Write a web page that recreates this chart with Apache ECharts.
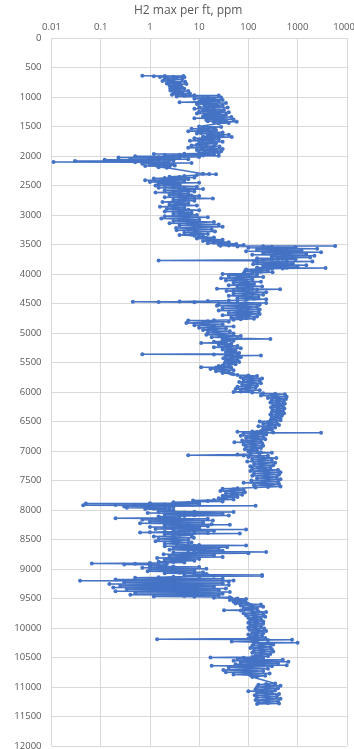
<!DOCTYPE html>
<html>
<head>
<meta charset="utf-8">
<script src="https://cdn.jsdelivr.net/npm/echarts@6/dist/echarts.min.js"></script>
<style>html,body{margin:0;padding:0;background:#fff;}#c{width:354px;height:749px;}</style>
</head>
<body>
<div id="c"></div>
<script>
// [depth ft, H2 ppm]
const seg650 = [[640,0.7],[643,2],[646,4.8],[650,1.2],[655,3],[660,1.6],[665,5],[670,2.2],[680,3.5],[690,2],[700,4.5],[710,2.4],[720,3],[730,1.8],[740,5.2],[750,2.5],[760,4],[770,2.2],[780,5.5],[790,3],[800,4.2],[810,2.5],[820,3.6],[830,2.8],[840,4.5],[850,2.6],[860,5],[870,3],[880,4],[890,2.6],[900,6],[910,3.2],[920,4.5],[930,3],[940,6.5],[950,3.5],[960,2.8],[970,8],[975,25],[980,5],[990,3.5],[1000,15]];
const seg1000 = [[1010,28],[1020,12],[1030,8],[1040,20],[1050,30],[1060,11],[1070,25],[1080,10],[1090,4],[1095,14],[1100,35],[1110,12],[1120,9],[1130,22],[1140,30],[1150,13],[1160,25],[1170,10],[1180,38],[1190,15],[1200,8],[1210,20],[1220,32],[1230,12],[1240,28],[1250,10],[1260,40],[1270,16],[1280,9],[1290,25],[1300,35],[1310,13],[1320,30],[1330,12],[1340,45],[1350,18],[1360,8],[1370,30],[1380,50],[1390,14],[1400,35],[1410,15],[1420,58],[1430,20],[1440,40],[1450,25]];
const seg1500 = [[1500,10],[1510,28],[1520,12],[1530,20],[1540,7],[1550,15],[1560,22],[1570,10],[1580,6],[1590,18],[1600,30],[1610,11],[1620,9],[1630,25],[1640,40],[1650,15],[1660,30],[1670,12],[1680,46],[1690,18],[1700,8],[1710,20],[1720,25],[1730,10],[1740,6.5],[1750,18],[1760,30],[1770,12],[1780,10],[1790,22],[1800,14],[1810,9],[1820,7],[1830,20],[1840,26],[1850,11],[1860,6],[1870,18],[1880,30],[1890,12],[1900,9],[1910,22],[1920,28],[1930,13],[1940,10],[1950,25]];
const seg1950 = [[1960,5],[1965,1.2],[1970,10],[1975,20],[1980,4],[1985,2],[1990,12],[1995,25],[2000,3],[2005,0.5],[2010,5],[2015,10],[2020,1.5],[2025,0.23],[2030,2],[2035,4],[2040,1],[2045,0.4],[2050,2.5],[2055,6],[2060,1.2],[2065,0.12],[2070,1.5],[2075,3],[2080,0.8],[2085,0.03],[2090,1],[2095,2.4],[2100,0.011],[2105,0.5],[2110,1],[2115,2],[2120,7],[2125,1.5],[2130,0.7],[2135,2],[2140,3],[2145,1.2],[2150,1],[2155,2.5],[2160,3.2],[2165,1.4],[2170,0.8],[2175,2],[2180,2.5],[2190,1.5],[2200,2.2]];
const seg2300 = [[2300,12],[2305,16],[2310,22],[2320,9],[2340,5],[2350,2.5],[2358,4],[2365,8],[2372,2],[2380,1.2],[2388,3],[2395,6],[2402,2],[2410,0.8],[2418,2.5],[2425,5],[2432,1.8],[2440,1],[2448,3],[2455,10],[2462,2.5],[2470,1.5],[2478,3.5],[2485,4],[2492,2],[2500,1.3],[2510,4],[2520,9],[2530,3],[2540,1.5],[2550,5],[2560,12],[2570,4],[2580,2],[2590,6],[2600,8],[2610,3],[2620,1.3],[2630,4],[2640,6],[2650,3],[2660,2.5],[2670,7],[2680,10],[2690,4],[2700,2],[2710,8],[2720,19],[2730,5],[2740,3]];
const seg2750 = [[2750,5],[2760,8],[2770,3],[2780,1.8],[2790,4],[2800,6],[2810,3.5],[2820,2.5],[2830,5],[2840,9],[2850,3],[2860,1.6],[2870,3.5],[2880,5],[2890,3],[2900,2.2],[2910,6],[2920,10],[2930,4],[2940,2],[2950,4.5],[2960,7],[2970,4],[2980,3],[2990,6],[3000,9],[3010,4],[3020,2],[3030,6],[3040,15],[3050,5],[3060,1.7],[3070,5],[3080,10],[3090,4],[3100,3],[3110,8],[3120,20],[3130,6],[3140,2.5],[3150,7],[3160,25],[3170,8],[3180,4],[3190,10],[3200,30],[3210,8],[3220,3.4],[3230,7],[3240,18],[3250,6],[3260,3.5],[3270,9],[3280,21],[3290,8],[3300,5],[3310,9],[3320,15],[3330,7],[3340,4],[3350,8],[3360,12],[3370,10]];
const seg3380 = [[3380,20],[3390,14],[3400,9],[3410,18],[3420,30],[3430,15],[3440,12],[3450,25],[3460,40],[3470,20],[3480,15],[3485,30],[3490,57],[3495,35],[3500,25],[3505,50],[3510,80],[3515,40],[3520,27],[3525,5800],[3530,200],[3535,60],[3540,300],[3545,900],[3550,250],[3555,100],[3562,400],[3570,2500],[3577,350],[3585,150],[3592,600],[3600,1200],[3607,300],[3615,90],[3622,500],[3630,3000],[3637,400],[3645,200],[3652,700],[3660,1500],[3667,350],[3675,120],[3682,600],[3690,2200],[3697,500],[3705,300],[3712,800],[3720,1800],[3727,400],[3735,150],[3742,500],[3750,900],[3755,300],[3760,200],[3770,1.5],[3775,150],[3780,130],[3785,600],[3790,2000],[3797,400],[3805,150],[3812,350],[3820,800],[3827,300],[3835,125],[3842,500],[3850,1500],[3857,350],[3865,200],[3872,450],[3880,1000],[3885,300],[3890,150],[3895,600],[3900,3700],[3905,500],[3910,300],[3917,150],[3925,90],[3932,180],[3940,250],[3947,120],[3955,85],[3962,180],[3970,310],[3977,150],[3985,120],[3992,80]];
const seg4000 = [[4000,30],[4008,80],[4015,150],[4022,60],[4030,40],[4040,100],[4050,200],[4060,70],[4070,28],[4080,60],[4090,120],[4100,55],[4110,35],[4120,90],[4130,180],[4140,80],[4150,50],[4160,100],[4170,130],[4180,70],[4190,40],[4200,110],[4210,190],[4220,90],[4230,60],[4240,100],[4250,23],[4255,120],[4260,440],[4268,150],[4275,80],[4282,50],[4290,36],[4300,100],[4310,230],[4320,90],[4330,50],[4340,120],[4350,200],[4360,80],[4370,40],[4380,90],[4390,160],[4400,100],[4410,60],[4420,130],[4430,230],[4440,90],[4450,40],[4458,15],[4465,4],[4470,0.45],[4475,1.5],[4480,8],[4485,60],[4490,230],[4495,80],[4500,25],[4510,90],[4520,170],[4530,70],[4540,23],[4550,80],[4560,150],[4570,60],[4580,30],[4590,100],[4600,170],[4610,70],[4620,25],[4630,90],[4640,160],[4650,70],[4660,40],[4670,110],[4680,170],[4690,60],[4700,30],[4710,100],[4720,150],[4730,70],[4740,45],[4750,90],[4760,130],[4768,70],[4775,50]];
const seg4780 = [[4785,20],[4790,6],[4800,15],[4810,40],[4820,12],[4830,5.5],[4840,12],[4850,30],[4860,15],[4870,8],[4880,20],[4890,50],[4900,18],[4910,10],[4920,18],[4930,35],[4940,16],[4950,12],[4960,22],[4970,42],[4980,20],[4990,15],[5000,25],[5010,50],[5020,25],[5030,14],[5040,30],[5050,70],[5060,30],[5070,18],[5080,35],[5090,60],[5100,280],[5105,40],[5110,30],[5120,40],[5130,50],[5140,30],[5150,20],[5160,35],[5170,11],[5175,30],[5180,45],[5190,35],[5200,25],[5210,40],[5220,60],[5230,35],[5240,20],[5250,40],[5260,70],[5270,45],[5280,30],[5290,40],[5300,55],[5310,45],[5320,35],[5330,50],[5340,65],[5350,45],[5360,0.7],[5365,20],[5370,40],[5375,60],[5380,180],[5385,60],[5390,35],[5400,50],[5410,70],[5420,45],[5430,31],[5440,45],[5450,60],[5460,40],[5470,35],[5480,50],[5490,65],[5500,45],[5510,33],[5520,45],[5530,55],[5540,40],[5550,30],[5560,25],[5570,40],[5575,25],[5580,11],[5585,22],[5590,45],[5600,25],[5610,17],[5620,30],[5630,50],[5640,30],[5650,22],[5660,30],[5670,40],[5680,30],[5690,45],[5700,50]];
const seg5700 = [[5710,60],[5720,100],[5730,150],[5740,90],[5750,70],[5760,120],[5770,190],[5780,110],[5790,80],[5800,120],[5810,170],[5820,100],[5830,65],[5840,110],[5850,180],[5860,110],[5870,75],[5880,110],[5890,150],[5900,90],[5910,60],[5920,100],[5930,140],[5940,90],[5950,55],[5960,100],[5970,170],[5980,100],[5990,70],[6000,50],[6010,120],[6020,200],[6030,350],[6040,550],[6050,300],[6060,180],[6070,350],[6080,600],[6090,400],[6100,250],[6110,400],[6120,580],[6130,400],[6140,300],[6150,420],[6160,520],[6170,380],[6180,280],[6190,400],[6200,550],[6210,420],[6220,320],[6230,420],[6240,500],[6250,380],[6260,290],[6270,400],[6280,540],[6290,420],[6300,310],[6310,400],[6320,500],[6330,380],[6340,300],[6350,420],[6360,530],[6370,400],[6380,280],[6390,380],[6400,480],[6410,380],[6420,300],[6430,380],[6440,450],[6450,350],[6460,290],[6470,350]];
const seg6470 = [[6480,450],[6490,280],[6500,170],[6510,260],[6520,380],[6530,280],[6540,200],[6550,300],[6560,420],[6570,260],[6580,160],[6590,250],[6600,350],[6610,260],[6620,200],[6630,260],[6640,300],[6650,230],[6660,180],[6668,120],[6675,60],[6680,150],[6685,320],[6690,3000],[6695,200],[6700,80],[6710,150],[6720,230],[6730,130],[6740,70],[6750,120],[6760,200],[6770,130],[6780,90],[6790,150],[6800,220],[6810,130],[6820,75],[6830,120],[6840,180],[6845,110],[6850,52],[6860,120],[6870,190],[6880,120],[6890,80],[6900,130],[6910,200],[6920,130],[6930,90],[6940,130],[6950,180],[6960,120],[6970,85],[6980,120],[6990,150],[7000,120]];
const seg7000 = [[7010,100],[7020,180],[7030,300],[7040,170],[7050,110],[7060,60],[7070,6],[7075,80],[7080,250],[7090,160],[7100,100],[7110,200],[7120,370],[7130,200],[7140,120],[7150,180],[7160,300],[7170,170],[7180,95],[7190,180],[7200,350],[7210,200],[7220,130],[7230,200],[7240,320],[7250,180],[7260,110],[7270,180],[7280,280],[7290,170],[7300,120],[7310,220],[7320,400],[7330,220],[7340,110],[7350,220],[7360,450],[7370,250],[7380,130],[7390,250],[7400,420],[7410,230],[7420,120],[7430,220],[7440,380],[7450,240],[7460,150],[7470,260],[7480,450],[7490,250],[7500,115],[7510,230],[7520,400],[7530,200],[7540,80],[7550,200],[7560,420],[7570,250],[7580,130],[7590,260],[7600,450],[7610,250],[7620,140]];
const seg7630 = [[7630,60],[7640,30],[7650,50],[7660,80],[7670,45],[7680,27],[7690,50],[7700,85],[7710,50],[7720,35],[7730,55],[7740,75],[7750,45],[7760,30],[7770,45],[7780,60],[7790,35],[7800,25],[7810,30],[7820,50],[7830,20],[7840,7.5],[7848,15],[7855,30],[7862,8],[7870,3],[7875,6],[7880,10],[7885,1],[7890,0.05],[7895,1],[7900,10],[7905,2],[7910,0.5],[7915,0.2],[7920,0.044],[7925,1],[7930,140],[7935,2],[7940,0.3],[7945,1],[7950,3],[7955,1],[7960,0.34],[7965,1],[7970,2.5],[7978,1.2],[7985,0.8],[7992,1.5],[8000,3]];
const seg8000 = [[8010,2],[8020,1.5],[8028,8],[8035,50],[8042,5],[8050,0.9],[8058,6],[8065,30],[8072,4],[8080,2],[8088,8],[8095,40],[8102,5],[8110,1.5],[8120,4],[8130,2],[8140,0.2],[8145,2],[8150,15],[8158,3],[8165,0.7],[8172,4],[8180,19],[8188,4],[8195,1],[8202,4],[8210,12],[8218,3],[8225,0.63],[8232,3],[8240,18],[8245,6],[8250,42],[8255,6],[8260,2],[8268,5],[8275,15],[8282,4],[8290,1],[8298,4],[8305,10],[8312,3],[8320,1.3],[8325,8],[8330,90],[8335,8],[8340,3],[8348,6],[8355,20],[8362,5],[8370,2],[8375,1],[8380,0.63],[8385,4],[8390,15],[8395,8],[8400,67],[8405,6],[8410,2],[8420,4]];
const seg8420 = [[8430,7],[8440,3],[8450,1.2],[8460,3],[8470,7.8],[8480,3],[8490,1.5],[8500,3.5],[8510,6],[8520,3],[8530,1.3],[8540,3],[8550,7],[8560,3.5],[8570,2],[8580,3.5],[8590,6],[8595,10],[8600,90],[8608,8],[8615,2],[8622,6],[8630,37],[8638,8],[8645,3],[8652,6],[8660,25],[8668,6],[8675,2.5],[8682,6],[8690,30],[8700,10],[8710,230],[8715,8],[8720,3],[8728,8],[8735,100],[8742,6],[8750,1.9],[8758,5],[8765,20],[8772,5],[8780,2.5],[8788,6],[8795,30],[8805,5],[8815,1.4],[8822,4],[8830,10],[8838,4],[8845,2],[8852,4],[8860,8],[8868,3],[8875,1.5],[8882,3],[8890,5],[8898,1],[8905,0.066],[8910,0.5],[8915,2.2],[8920,1],[8925,0.3],[8930,1],[8935,2],[8942,1.5]];
const seg8950 = [[8950,1],[8958,3],[8965,10],[8972,3],[8980,0.7],[8988,3],[8995,14],[9002,3],[9010,1],[9018,3],[9025,8],[9032,3],[9040,0.9],[9048,3],[9055,12],[9062,4],[9070,2],[9078,5],[9085,14],[9092,8],[9100,190],[9105,15],[9110,5],[9115,20],[9120,190],[9125,10],[9130,3],[9140,1.5],[9150,0.5],[9158,4],[9165,30],[9172,3],[9180,0.2],[9188,3],[9195,50],[9198,2],[9200,0.038],[9205,3],[9210,40],[9218,3],[9225,0.3],[9232,3],[9240,30],[9248,3],[9255,0.15],[9262,3],[9270,40],[9278,3],[9285,0.25],[9292,3],[9300,20],[9308,3],[9315,0.18],[9322,3],[9330,35],[9338,4],[9345,0.34],[9352,4],[9360,25],[9368,3],[9375,0.2],[9382,4],[9390,42],[9398,4],[9405,0.5],[9412,5],[9420,30],[9428,5],[9435,0.4],[9442,5],[9450,25],[9458,5],[9465,1.2],[9472,8],[9480,42],[9488,20]];
const seg9500 = [[9495,45],[9502,60],[9510,90],[9518,55],[9525,42],[9532,60],[9540,85],[9548,60],[9555,50],[9562,65],[9570,90],[9578,65],[9585,55],[9592,100],[9600,180],[9610,110],[9620,70],[9630,120],[9640,200],[9650,120],[9660,80],[9670,110],[9680,150],[9690,80],[9700,32],[9705,70],[9710,120],[9720,160],[9730,230],[9740,130],[9750,80],[9760,130],[9770,200],[9780,130],[9790,90],[9800,140],[9810,220],[9820,140],[9830,100],[9840,140],[9850,180],[9860,130],[9870,110],[9880,150],[9890,200],[9900,140],[9910,100],[9920,140],[9930,200],[9940,140],[9950,110],[9960,140],[9970,180],[9980,130],[9990,100],[10000,140],[10010,210],[10020,140],[10030,105],[10040,150],[10050,230],[10060,150],[10070,120],[10080,150],[10090,200],[10100,140],[10110,100],[10120,140],[10130,190],[10140,140],[10150,110],[10160,150]];
const seg10170 = [[10170,220],[10180,100],[10190,1.4],[10195,130],[10200,770],[10205,250],[10210,150],[10220,120],[10230,46],[10240,150],[10250,1000],[10255,250],[10260,130],[10270,200],[10280,320],[10290,180],[10300,120],[10310,180],[10320,280],[10330,170],[10340,110],[10350,180],[10360,300],[10370,190],[10380,130],[10390,200],[10400,320],[10410,190],[10420,120],[10430,180],[10440,280],[10450,180],[10460,140],[10470,180],[10480,250],[10490,120],[10500,17],[10505,80],[10510,200],[10518,120],[10525,60],[10532,150],[10540,500],[10548,150],[10555,50],[10562,200],[10570,650],[10578,200],[10585,70],[10592,180],[10600,400],[10608,150],[10615,55],[10622,200],[10630,600],[10635,100],[10640,18],[10645,80],[10650,300],[10660,120],[10670,40],[10680,100],[10690,250],[10700,90],[10710,31],[10720,90],[10730,200],[10740,80],[10750,35],[10760,100],[10770,270],[10780,110],[10790,50],[10800,110],[10810,220],[10820,150],[10830,120]];
const seg10940 = [[10940,350],[10950,230],[10960,160],[10970,260],[10980,450],[10990,260],[11000,150],[11010,250],[11020,400],[11030,230],[11040,140],[11050,230],[11060,350],[11065,180],[11070,100],[11075,180],[11080,300],[11090,200],[11100,150],[11110,250],[11120,420],[11130,230],[11140,135],[11150,230],[11160,380],[11170,240],[11180,150],[11190,260],[11200,450],[11210,250],[11220,140],[11230,230],[11240,400],[11250,240],[11260,160],[11270,250],[11280,420],[11290,150]];

const xTicks = [0.01, 0.1, 1, 10, 100, 1000, 10000];
const chartTitle = 'H2 max per ft, ppm';

const all = [].concat(seg650, seg1000, seg1500, seg1950, seg2300, seg2750, seg3380, seg4000, seg4780, seg5700, seg6470, seg7000, seg7630, seg8000, seg8420, seg8950, seg9500, seg10170, seg10940);
const seriesData = all.map(p => [p[1], p[0]]);

const chart = echarts.init(document.getElementById('c'), null, {renderer: 'canvas'});
const txt = '#595959';
chart.setOption({
  animation: false,
  backgroundColor: '#ffffff',
  title: {
    text: chartTitle, left: 134, top: 5, padding: 0,
    textStyle: {color: txt, fontSize: 12, fontWeight: 'normal', fontFamily: 'Open Sans'}
  },
  grid: {left: 51.5, right: 7.2, top: 38, bottom: 3, containLabel: false, outerBoundsMode: 'none'},
  xAxis: {
    type: 'log', logBase: 10, min: xTicks[0], max: xTicks[xTicks.length - 1],
    position: 'top', splitNumber: 6,
    axisLine: {show: false}, axisTick: {show: false},
    axisLabel: {color: txt, fontSize: 9.5, fontFamily: 'Open Sans', margin: 6,
      alignMinLabel: 'center', alignMaxLabel: 'center',
      formatter: v => String(Number(Number(v).toPrecision(6)))},
    splitLine: {show: true, lineStyle: {color: '#d9d9d9', width: 1}}
  },
  yAxis: {
    type: 'value', inverse: true, min: 0, max: 12000, interval: 500,
    axisLine: {show: false}, axisTick: {show: false},
    axisLabel: {color: txt, fontSize: 9.5, fontFamily: 'Open Sans', margin: 10,
      formatter: v => String(v)},
    splitLine: {show: true, lineStyle: {color: '#d9d9d9', width: 1}}
  },
  series: [{
    type: 'line', data: seriesData,
    symbol: 'circle', symbolSize: 4, showSymbol: true,
    lineStyle: {color: '#4472C4', width: 1.5},
    itemStyle: {color: '#4472C4', borderWidth: 0},
    clip: false
  }]
});
</script>
</body>
</html>
